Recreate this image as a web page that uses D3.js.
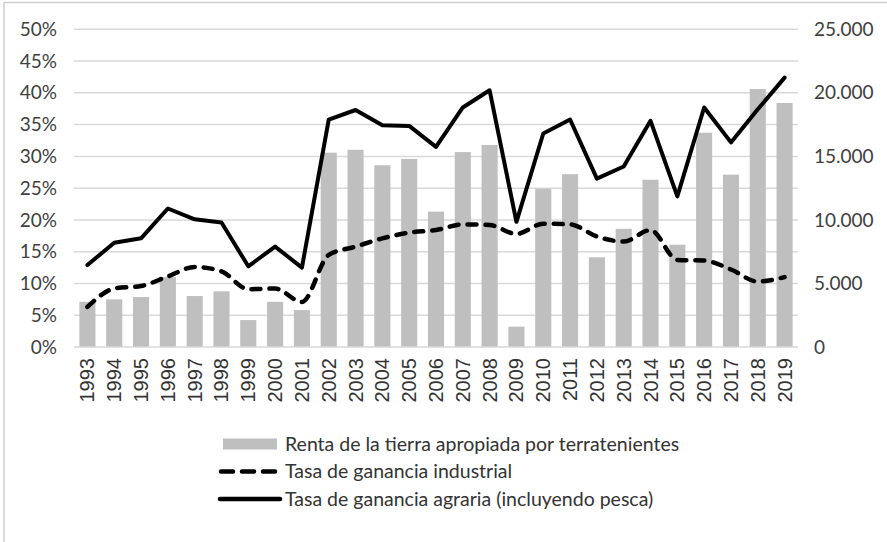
<!DOCTYPE html>
<html>
<head>
<meta charset="utf-8">
<script src="https://cdn.jsdelivr.net/npm/d3@7"></script>
<style>
  body { margin: 0; background: #fff; }
  svg { display: block; }
</style>
</head>
<body>
<svg id="chart"></svg>
<script>
var years = ['1993','1994','1995','1996','1997','1998','1999','2000','2001','2002','2003','2004','2005','2006','2007','2008','2009','2010','2011','2012','2013','2014','2015','2016','2017','2018','2019'];
// renta de la tierra (eje derecho)
var renta = [3560, 3750, 3930, 5500, 4010, 4380, 2120, 3560, 2900, 15290, 15520, 14300, 14800, 10650, 15340, 15900, 1600, 12450, 13600, 7060, 9300, 13160, 8050, 16860, 13560, 20300, 19200];
// tasa de ganancia industrial (%)
var industrial = [6.3, 9.2, 9.6, 11.1, 12.6, 11.9, 9.1, 9.2, 7.1, 14.5, 15.8, 17.1, 18.0, 18.4, 19.3, 19.2, 17.8, 19.4, 19.3, 17.4, 16.6, 18.4, 13.7, 13.6, 12.2, 10.3, 11.0];
// tasa de ganancia agraria (%)
var agraria = [12.9, 16.4, 17.1, 21.8, 20.1, 19.6, 12.7, 15.8, 12.5, 35.8, 37.3, 34.9, 34.8, 31.5, 37.7, 40.4, 19.7, 33.6, 35.8, 26.5, 28.4, 35.6, 23.7, 37.7, 32.2, 37.4, 42.4];
var leftTicks = [0, 5, 10, 15, 20, 25, 30, 35, 40, 45, 50];
var rightTicks = [0, 5000, 10000, 15000, 20000, 25000];
var legendLabels = ['Renta de la tierra apropiada por terratenientes', 'Tasa de ganancia industrial', 'Tasa de ganancia agraria (incluyendo pesca)'];

(function(){
    var width = 887, height = 542;
    var plotLeft = 74, plotRight = 798, plotTop = 29.3, plotBottom = 347;
    var tickFont = 'Lato, "Open Sans", sans-serif';
    var textColor = '#404040';

    var svg = d3.select('#chart').attr('width', width).attr('height', height);

    // marco exterior
    svg.append('rect')
        .attr('x', 4).attr('y', 2.5)
        .attr('width', width + 20).attr('height', height + 20)
        .attr('fill', 'none').attr('stroke', '#d0d0d0').attr('stroke-width', 1.5);

    var x = d3.scaleBand().domain(years).range([plotLeft, plotRight]).paddingInner(0.4).paddingOuter(0.2);
    var yLeft = d3.scaleLinear().domain([0, 50]).range([plotBottom, plotTop]);
    var yRight = d3.scaleLinear().domain([0, 25000]).range([plotBottom, plotTop]);

    var loc = d3.formatLocale({decimal: ',', thousands: '.', grouping: [3], currency: ['', '']});
    var fmtRight = loc.format(',');

    // lineas de grilla
    svg.append('g').selectAll('line')
        .data(leftTicks.filter(function(d){ return d > 0; }))
        .enter().append('line')
        .attr('x1', plotLeft).attr('x2', plotRight)
        .attr('y1', function(d){ return yLeft(d); })
        .attr('y2', function(d){ return yLeft(d); })
        .attr('stroke', '#d9d9d9').attr('stroke-width', 1.5);

    // eje izquierdo
    var yAxisL = d3.axisLeft(yLeft).tickValues(leftTicks).tickSize(0).tickPadding(0)
        .tickFormat(function(d){ return d + '%'; });
    var gl = svg.append('g').attr('transform', 'translate(57,0)').call(yAxisL);
    gl.select('.domain').remove();
    gl.selectAll('text').attr('font-family', tickFont).attr('font-size', 19).attr('fill', textColor);

    // eje derecho
    var yAxisR = d3.axisRight(yRight).tickValues(rightTicks).tickSize(0).tickPadding(0)
        .tickFormat(function(d){ return fmtRight(d); });
    var gr = svg.append('g').attr('transform', 'translate(814,0)').call(yAxisR);
    gr.select('.domain').remove();
    gr.selectAll('text').attr('font-family', tickFont).attr('font-size', 19).attr('fill', textColor);

    // barras
    svg.append('g').selectAll('rect')
        .data(renta)
        .enter().append('rect')
        .attr('x', function(d, i){ return x(years[i]); })
        .attr('width', x.bandwidth())
        .attr('y', function(d){ return yRight(d); })
        .attr('height', function(d){ return plotBottom - yRight(d); })
        .attr('fill', '#bfbfbf');

    // eje x
    var xAxis = d3.axisBottom(x).tickSize(0).tickPadding(0);
    var gx = svg.append('g').attr('transform', 'translate(0,' + plotBottom + ')').call(xAxis);
    gx.select('.domain').attr('stroke', '#d9d9d9').attr('stroke-width', 1.5)
        .attr('d', 'M' + plotLeft + ',0H' + plotRight);
    gx.selectAll('text')
        .attr('font-family', '"Liberation Sans", Arial, sans-serif')
        .attr('font-size', 20).attr('fill', '#333')
        .attr('transform', 'rotate(-90)')
        .attr('text-anchor', 'end')
        .attr('x', -11).attr('y', 0).attr('dy', '0.35em');

    var cx = function(d, i){ return x(years[i]) + x.bandwidth() / 2; };

    // linea industrial (punteada)
    svg.append('path')
        .datum(industrial)
        .attr('d', d3.line().x(cx).y(function(d){ return yLeft(d); }).curve(d3.curveMonotoneX))
        .attr('fill', 'none').attr('stroke', '#000').attr('stroke-width', 4.5)
        .attr('stroke-dasharray', '9,9').attr('stroke-linecap', 'round');

    // linea agraria
    svg.append('path')
        .datum(agraria)
        .attr('d', d3.line().x(cx).y(function(d){ return yLeft(d); }))
        .attr('fill', 'none').attr('stroke', '#000').attr('stroke-width', 4)
        .attr('stroke-linejoin', 'round').attr('stroke-linecap', 'round');

    // leyenda
    var legend = svg.append('g');
    var ly = [444, 471.5, 499];
    legend.append('rect').attr('x', 223).attr('y', ly[0] - 5.5).attr('width', 54).attr('height', 11).attr('fill', '#bfbfbf');
    legend.append('line').attr('x1', 221).attr('x2', 278).attr('y1', ly[1]).attr('y2', ly[1])
        .attr('stroke', '#000').attr('stroke-width', 4.5).attr('stroke-dasharray', '12,9').attr('stroke-linecap', 'round');
    legend.append('line').attr('x1', 220).attr('x2', 280).attr('y1', ly[2]).attr('y2', ly[2])
        .attr('stroke', '#000').attr('stroke-width', 4.5).attr('stroke-linecap', 'round');
    legend.selectAll('text')
        .data(legendLabels)
        .enter().append('text')
        .attr('x', 285)
        .attr('y', function(d, i){ return ly[i]; })
        .attr('dy', '0.35em')
        .attr('font-family', tickFont).attr('font-size', 19.5).attr('fill', '#333')
        .text(function(d){ return d; });
})();
</script>
</body>
</html>
